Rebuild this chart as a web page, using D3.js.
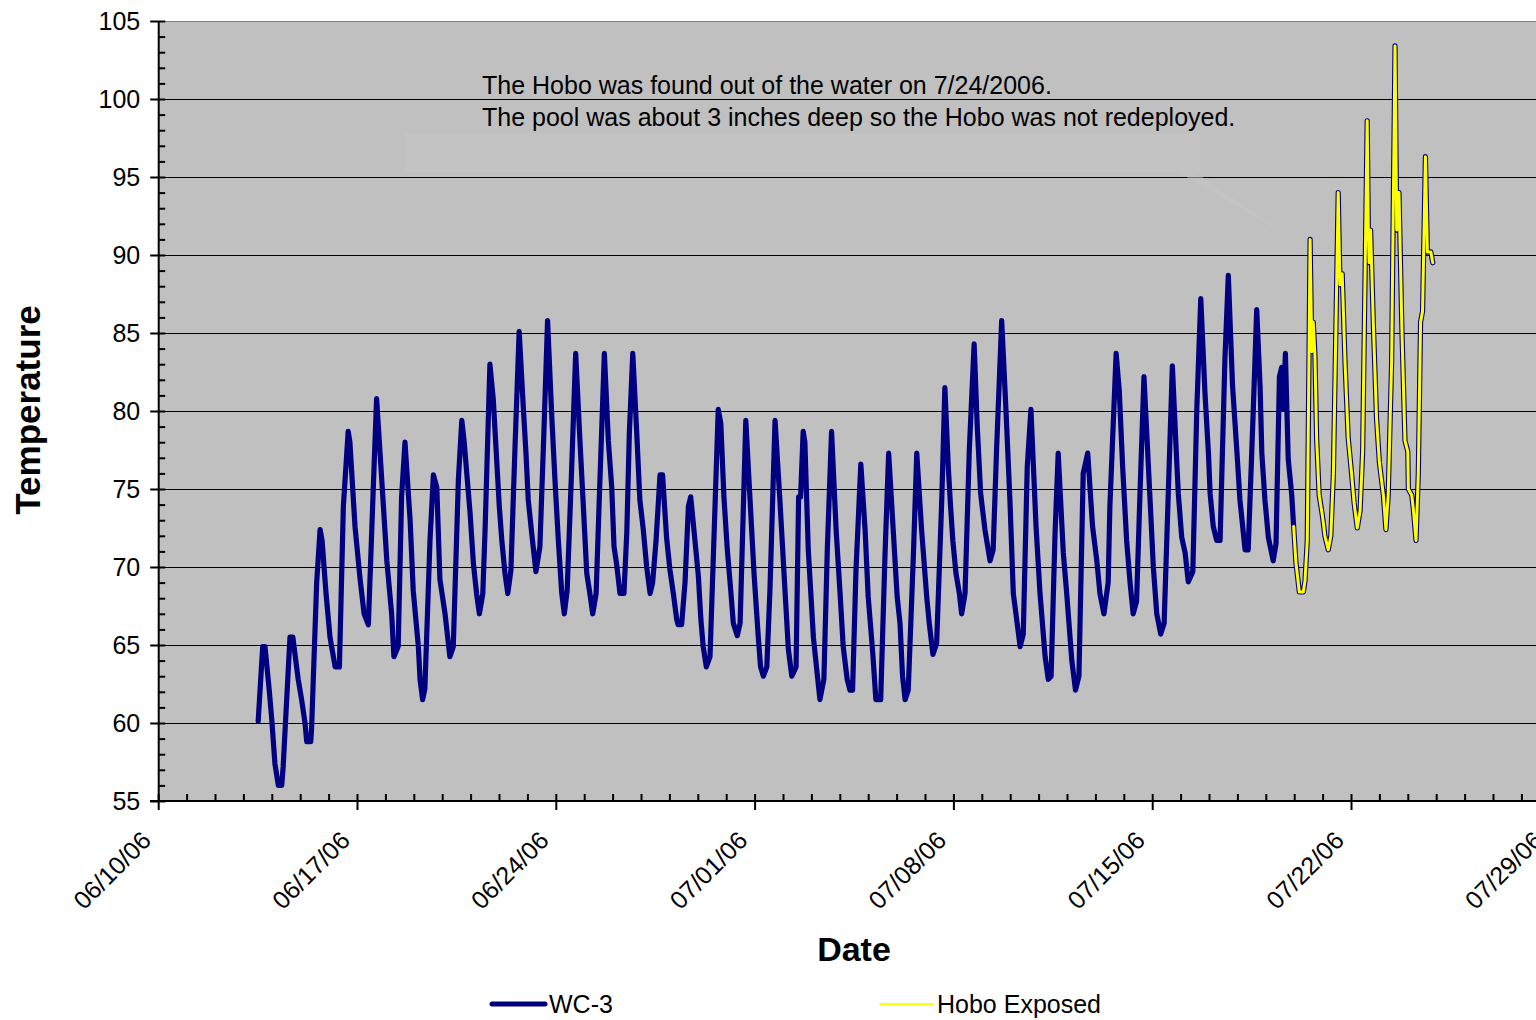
<!DOCTYPE html>
<html><head><meta charset="utf-8">
<script src="https://cdn.jsdelivr.net/npm/d3@7"></script>
<style>body{margin:0;background:#fff}svg{display:block}</style>
</head><body>
<svg id="chart" width="1536" height="1020"></svg>
<script>
// ---- data ----
const seriesNames = ["WC-3", "Hobo Exposed"];
const startLabel = "06/10/06";   // day 0 of the day offsets below
// WC-3: time (days after 06/10/06 00:00) and temperature
const wc3Days = [
3.52,3.68,3.76,3.91,4.00,4.11,4.23,4.35,4.40,4.64,4.74,4.93,5.05,5.17,5.23,5.37,5.40,5.58,5.70,5.77,
5.91,6.05,6.23,6.38,6.52,6.69,6.75,6.93,7.11,7.25,7.40,7.57,7.69,7.93,8.05,8.22,8.30,8.45,8.57,8.69,
8.87,8.98,9.16,9.22,9.31,9.39,9.57,9.69,9.81,9.92,10.10,10.27,10.39,10.57,10.69,10.77,10.98,11.10,11.21,11.31,
11.43,11.51,11.68,11.80,12.01,12.10,12.21,12.31,12.42,12.56,12.71,12.86,12.95,13.03,13.15,13.30,13.44,13.58,13.71,13.86,
13.97,14.09,14.21,14.30,14.40,14.56,14.70,14.85,14.97,15.09,15.20,15.30,15.42,15.53,15.71,15.85,15.97,16.05,16.14,16.26,
16.40,16.50,16.59,16.71,16.85,16.96,17.08,17.20,17.32,17.41,17.53,17.67,17.76,17.90,18.02,18.14,18.26,18.31,18.43,18.55,
18.67,18.75,18.90,19.02,19.11,19.19,19.30,19.43,19.72,19.81,19.92,20.04,20.16,20.25,20.39,20.49,20.69,20.84,20.98,21.13,
21.21,21.31,21.43,21.54,21.72,21.89,22.07,22.19,22.31,22.46,22.55,22.62,22.71,22.77,22.89,23.07,23.19,23.30,23.44,23.56,
23.71,23.87,24.01,24.12,24.26,24.36,24.45,24.57,24.74,24.89,25.00,25.16,25.27,25.44,25.59,25.72,25.88,26.02,26.12,26.21,
26.30,26.41,26.59,26.71,26.88,27.06,27.15,27.28,27.41,27.59,27.70,27.82,27.90,27.98,28.09,28.21,28.29,28.41,28.56,28.73,
28.84,28.96,29.11,29.29,29.40,29.52,29.70,29.85,29.99,30.11,30.23,30.35,30.46,30.60,30.73,30.91,31.05,31.23,31.34,31.44,
31.58,31.69,31.87,31.99,32.17,32.30,32.42,32.57,32.73,32.90,33.05,33.16,33.30,33.45,33.51,33.73,33.84,33.96,34.10,34.22,
34.33,34.45,34.57,34.71,34.92,35.04,35.16,35.30,35.42,35.71,35.86,35.92,36.04,36.16,36.27,36.43,36.57,36.71,36.86,36.98,
37.04,37.15,37.27,37.39,37.56,37.68,37.83,38.00,38.09,38.27,38.38,38.56,38.68,38.80,38.86,38.97,39.09,39.26,39.36,39.48,
39.56,39.62,39.69,39.79,39.91,39.98
];
const wc3Temps = [
60.1,64.9,64.9,62.1,60.2,57.4,56.0,56.0,57.2,65.5,65.5,62.8,61.5,60.0,58.8,58.8,59.6,69.0,72.4,71.7,
68.3,65.5,63.6,63.6,73.9,78.7,78.0,72.6,69.2,67.0,66.3,74.9,80.8,73.9,70.4,67.0,64.25,64.9,74.5,78.0,
73.0,68.5,64.9,62.8,61.5,62.2,71.7,75.9,75.1,69.2,67.0,64.25,64.9,75.6,79.4,78.1,73.5,70.2,68.3,67.0,
68.3,72.4,83.0,80.7,73.9,71.7,69.6,68.3,69.8,77.5,85.1,80.1,77.3,74.3,72.2,69.7,71.3,78.6,85.8,79.6,
75.6,71.7,68.3,67.0,68.5,76.4,83.7,78.1,73.9,69.6,68.3,67.0,68.3,74.3,83.7,78.1,75.1,71.3,70.2,68.3,
68.3,72.2,78.6,83.7,78.6,74.3,72.4,70.0,68.3,69.0,71.7,75.9,75.9,71.9,69.8,68.3,66.6,66.3,66.3,69.0,
73.9,74.5,71.7,69.4,66.6,64.9,63.6,64.25,80.1,79.2,74.5,71.1,68.5,66.4,65.6,66.4,79.4,74.3,69.6,65.5,
63.6,63.0,63.6,68.5,79.4,74.3,68.5,64.7,63.0,63.6,74.5,74.5,78.7,78.0,71.1,65.5,63.4,61.5,62.8,71.1,
78.7,72.4,68.3,64.9,62.8,62.1,62.1,69.8,76.6,72.4,68.1,64.5,61.5,61.5,70.7,77.3,72.4,68.1,66.4,63.0,
61.5,62.1,70.7,77.3,72.4,68.1,66.4,64.4,65.1,74.3,81.5,76.4,73.9,71.7,69.6,68.3,67.0,68.3,77.5,84.3,
79.0,74.7,72.4,70.4,71.1,77.5,85.8,80.1,74.3,68.3,66.6,64.9,65.7,76.4,80.1,72.6,68.3,64.25,62.8,63.0,
72.2,77.3,70.9,68.3,64.0,62.1,63.0,76.0,77.3,72.6,70.4,68.3,67.0,69.0,73.9,83.7,81.3,76.4,71.7,69.0,
67.0,67.8,74.7,82.2,74.5,70.0,67.0,65.7,66.4,82.9,76.9,74.7,71.9,70.9,69.05,69.7,80.1,87.2,81.1,77.3,
74.7,72.6,71.7,71.7,83.3,88.7,81.6,76.9,74.3,71.1,71.1,80.1,86.5,81.5,77.3,74.3,71.9,70.4,71.5,82.2,
82.8,80.1,83.7,76.9,74.7,72.6
];
// Hobo Exposed (drawn over the WC-3 trace, which continues beneath it)
const hoboDays = [39.98,40.06,40.18,40.32,40.38,40.46,40.56,40.62,40.67,40.73,40.79,40.88,41.00,41.08,41.20,41.29,41.38,41.55,41.61,41.69,41.79,41.90,42.02,42.11,42.22,42.32,42.41,42.57,42.61,42.64,42.69,42.79,42.90,43.00,43.14,43.23,43.31,43.43,43.55,43.61,43.69,43.79,43.90,44.00,44.02,44.14,44.19,44.29,44.37,44.45,44.52,44.62,44.69,44.81,44.88];
const hoboTemps = [72.6,70.3,68.4,68.4,69.1,71.7,91.0,83.8,85.7,83.6,78.2,74.6,73.2,72.0,71.1,72.0,76.0,94.0,88.1,88.8,83.1,78.3,76.0,74.1,72.5,73.6,77.4,98.6,91.6,89.5,91.6,85.4,79.5,76.7,74.6,72.4,74.6,83.1,103.4,91.6,94.0,85.4,78.1,77.4,75.0,74.6,73.8,71.7,76.0,85.7,86.4,96.3,90.2,90.2,89.5];

const yTickValues = [55,60,65,70,75,80,85,90,95,100,105];
const xTickLabels = ["06/10/06","06/17/06","06/24/06","07/01/06","07/08/06","07/15/06","07/22/06","07/29/06"];
const yTitle = "Temperature";
const xTitle = "Date";
const noteLines = ["The Hobo was found out of the water on 7/24/2006.",
                   "The pool was about 3 inches deep so the Hobo was not redeployed."];

// ---- drawing ----
const FONT = "'Liberation Sans', Arial, Helvetica, sans-serif";
const parse = d3.timeParse("%m/%d/%y");
const fmt = d3.timeFormat("%m/%d/%y");
const t0 = parse(startLabel);
const toDate = d => new Date(t0.getTime() + d * 864e5);
const xDates = xTickLabels.map(parse);

const L = 158.2, T = 21, B = 801, W = 1536;
const x = d3.scaleTime().domain([xDates[0], xDates[xDates.length - 1]]).range([L, 1549.8]);
const y = d3.scaleLinear().domain([55, 105]).range([B, T]);

const svg = d3.select("#chart").style("font-family", FONT);

// plot background
svg.append("rect").attr("x", L).attr("y", T).attr("width", W - L).attr("height", B - T).attr("fill", "#C0C0C0");
svg.append("line").attr("x1", L).attr("x2", W).attr("y1", T + 0.5).attr("y2", T + 0.5).attr("stroke", "#808080").attr("stroke-width", 1.2);

// grid lines
svg.append("g").selectAll("line").data(yTickValues.filter(v => v > 55 && v < 105)).join("line")
  .attr("x1", L).attr("x2", W).attr("y1", d => Math.round(y(d)) + 0.5).attr("y2", d => Math.round(y(d)) + 0.5)
  .attr("stroke", "#000").attr("stroke-width", 1);

// callout (faint)
const note = svg.append("g");
note.append("path")
  .attr("d", "M405,134 L1200,134 L1200,172 L1195,172 L1295,240 L1178,172 L405,172 Z")
  .attr("fill", "#c5c5c5").attr("opacity", 0.5);
note.selectAll("text").data(noteLines).join("text")
  .attr("x", 482).attr("y", (d, i) => 94 + i * 32)
  .attr("font-size", 25).attr("fill", "#000").text(d => d);

// series
const pts = (ds, vs) => ds.map((d, i) => ({ t: toDate(d), v: vs[i] }));
const line = d3.line().x(d => x(d.t)).y(d => y(d.v));
const wc3Pts = pts(wc3Days, wc3Temps);
const hoboPts = pts(hoboDays, hoboTemps);
svg.append("path").datum(wc3Pts.concat(hoboPts.slice(1)))
  .attr("d", line).attr("fill", "none").attr("stroke", "#000080")
  .attr("stroke-width", 5.2).attr("stroke-linejoin", "round").attr("stroke-linecap", "round");
svg.append("path").datum(hoboPts)
  .attr("d", line).attr("fill", "none").attr("stroke", "#FFFF00")
  .attr("stroke-width", 3).attr("stroke-linejoin", "round").attr("stroke-linecap", "round");

// y axis: minor ticks inside, major ticks outside
const yMinor = svg.append("g").attr("transform", `translate(${L},0)`)
  .call(d3.axisLeft(y).tickValues(d3.range(55, 106, 1)).tickSize(-7).tickFormat(""));
yMinor.select(".domain").remove();
const yAxis = svg.append("g").attr("transform", `translate(${L},0)`)
  .call(d3.axisLeft(y).tickValues(yTickValues).tickSizeInner(8).tickSizeOuter(0).tickPadding(10));
yAxis.selectAll("text").attr("font-size", 25).attr("font-family", FONT).attr("fill", "#000");
svg.selectAll(".tick line").attr("stroke", "#000").attr("stroke-width", 2);
yAxis.select(".domain").attr("stroke", "#000").attr("stroke-width", 2);

// x axis
const xMinor = svg.append("g").attr("transform", `translate(0,${B})`)
  .call(d3.axisBottom(x).ticks(d3.timeDay.every(1)).tickSize(-7).tickFormat(""));
xMinor.select(".domain").remove();
xMinor.selectAll(".tick line").attr("stroke", "#000").attr("stroke-width", 2);
const xAxis = svg.append("g").attr("transform", `translate(0,${B})`)
  .call(d3.axisBottom(x).tickValues(xDates).tickSizeInner(9).tickSizeOuter(0).tickFormat(fmt));
xAxis.select(".domain").attr("stroke", "#000").attr("stroke-width", 2).attr("d", `M150,0H${W}`);
xAxis.selectAll(".tick line").attr("stroke", "#000").attr("stroke-width", 2);
xAxis.selectAll("text")
  .attr("font-size", 25).attr("font-family", FONT).attr("fill", "#000")
  .attr("text-anchor", "end").attr("x", 0).attr("y", 0).attr("dy", 0)
  .attr("transform", "translate(-6,41) rotate(-45)");

// axis titles
svg.append("text").attr("transform", "translate(40,410) rotate(-90)")
  .attr("text-anchor", "middle").attr("font-size", 35).attr("font-weight", "bold").text(yTitle);
svg.append("text").attr("x", 854).attr("y", 961)
  .attr("text-anchor", "middle").attr("font-size", 34).attr("font-weight", "bold").text(xTitle);

// legend
const legend = [
  { name: seriesNames[0], color: "#000080", w: 5, x: 492 },
  { name: seriesNames[1], color: "#FFFF00", w: 2.2, x: 880 }
];
const lg = svg.append("g").selectAll("g").data(legend).join("g");
lg.append("line").attr("x1", d => d.x).attr("x2", d => d.x + 53).attr("y1", 1004).attr("y2", 1004)
  .attr("stroke", d => d.color).attr("stroke-width", d => d.w).attr("stroke-linecap", "round");
lg.append("text").attr("x", d => d.x + 57).attr("y", 1013).attr("font-size", 25).text(d => d.name);
</script>
</body></html>
